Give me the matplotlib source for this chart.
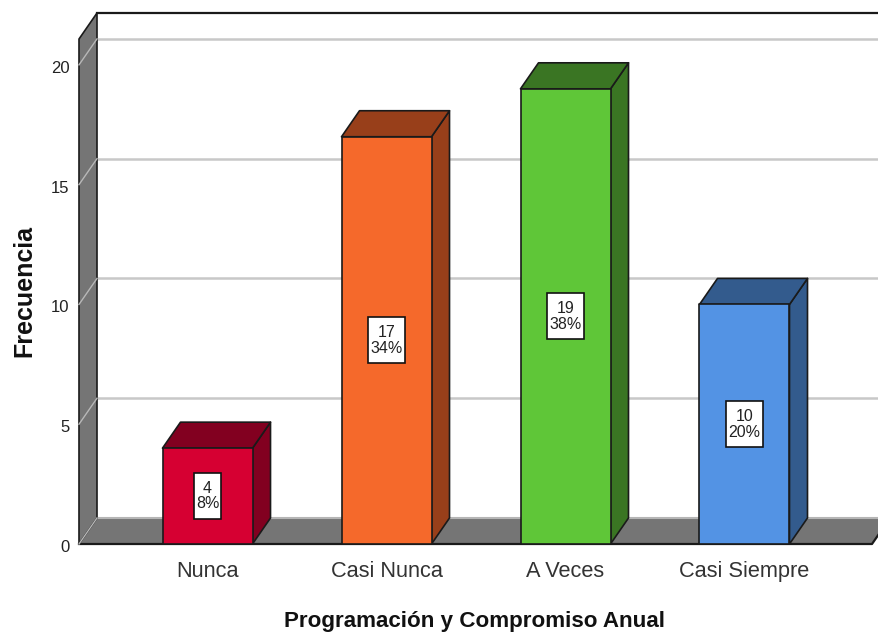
import matplotlib
matplotlib.use("Agg")
import matplotlib.pyplot as plt
from matplotlib.patches import Polygon, Rectangle
from matplotlib.transforms import ScaledTranslation

categories = ["Nunca", "Casi Nunca", "A Veces", "Casi Siempre"]
counts = [4, 17, 19, 10]
percents = ["8%", "34%", "38%", "20%"]
yticks = [0, 5, 10, 15, 20]
front_colors = ["#d60032", "#f5692b", "#5fc638", "#5393e4"]
side_colors = ["#820020", "#983f1a", "#3a7523", "#335b8d"]

plt.rcParams["font.family"] = ["Liberation Sans", "DejaVu Sans"]

W, H = 879, 633
fig = plt.figure(figsize=(W / 100, H / 100), dpi=100)
ax = fig.add_axes([79 / W, 1 - 544 / H, (872 - 79) / W, (544 - 39) / H])

xmin, xmax = -0.7179, 3.7123
ymax = 21.08
ax.set_xlim(xmin, xmax)
ax.set_ylim(0, ymax)
for s in ax.spines.values():
    s.set_visible(False)

# depth of the fake 3d, in data units
dx = 18 / 179
dy = 26 / 23.95
bar_w = 90 / 179
wall = "#757575"
edge = "#1a1a1a"


def poly(pts, fc, z, ec=edge, lw=1.2):
    ax.add_patch(Polygon(pts, closed=True, fc=fc, ec=ec, lw=lw, zorder=z,
                         clip_on=False, joinstyle="round"))


# floor and left wall
poly([(xmin, 0), (xmin + dx, dy), (xmax + dx, dy), (xmax, 0)], wall, 1, ec="none", lw=0)
ax.plot([xmin + dx, xmax + dx], [dy, dy], color="#b5b5b5", lw=1.5, zorder=1.1, clip_on=False)
ax.plot([xmin, xmax, xmax + dx], [0, 0, dy], color=edge, lw=1.6, zorder=1.2, clip_on=False)
poly([(xmin, 0), (xmin + dx, dy), (xmin + dx, ymax + dy), (xmin, ymax)], wall, 2)

# grid lines on the back and on the wall
for v in yticks[1:]:
    ax.plot([xmin + dx, xmax + dx], [v + dy, v + dy], color="#c8c8c8", lw=1.8,
            zorder=0.5, clip_on=False)
for v in yticks:
    ax.plot([xmin, xmin + dx], [v, v + dy], color="#b8b8b8", lw=1, zorder=3, clip_on=False)

# top of back wall
ax.plot([xmin + dx, xmax + dx], [ymax + dy, ymax + dy], color=edge, lw=1.6, zorder=3, clip_on=False)

# bars
for i, (n, p) in enumerate(zip(counts, percents)):
    l = i - bar_w / 2
    r = i + bar_w / 2
    poly([(r, 0), (r + dx, dy), (r + dx, n + dy), (r, n)], side_colors[i], 4)
    poly([(l, n), (l + dx, n + dy), (r + dx, n + dy), (r, n)], side_colors[i], 4)
    poly([(l, 0), (r, 0), (r, n), (l, n)], front_colors[i], 5)
    # value box, wider for the two digit labels
    bw = (27 if n < 10 else 37) / 179
    bh = 46 / 23.95
    ax.add_patch(Rectangle((i - bw / 2, n / 2 - bh / 2), bw, bh, fc="white", ec="#111111",
                           lw=1.2, zorder=6))
    ax.text(i, n / 2, f"{n}\n{p}", ha="center", va="center", fontsize=11.5, color="#222222",
            linespacing=1.05, zorder=7)

ax.set_yticks(yticks)
ax.set_xticks(range(len(categories)))
ax.set_xticklabels(categories, fontsize=15.7, color="#333333")
ax.tick_params(axis="x", length=0, pad=12)
ax.tick_params(axis="y", length=0, pad=7, labelsize=12, labelcolor="#222222")
down = ScaledTranslation(0, -2 / 100, fig.dpi_scale_trans)
for lab in ax.get_yticklabels():
    lab.set_transform(lab.get_transform() + down)

fig.text(475 / W, 1 - 622 / H, "Programación y Compromiso Anual", fontsize=16.1,
         fontweight="bold", ha="center", va="center", color="#111111")
fig.text(24 / W, 1 - 291 / H, "Frecuencia", fontsize=18, fontweight="bold",
         rotation=90, ha="center", va="center", color="#111111")

fig.savefig("out.png", dpi=100)
